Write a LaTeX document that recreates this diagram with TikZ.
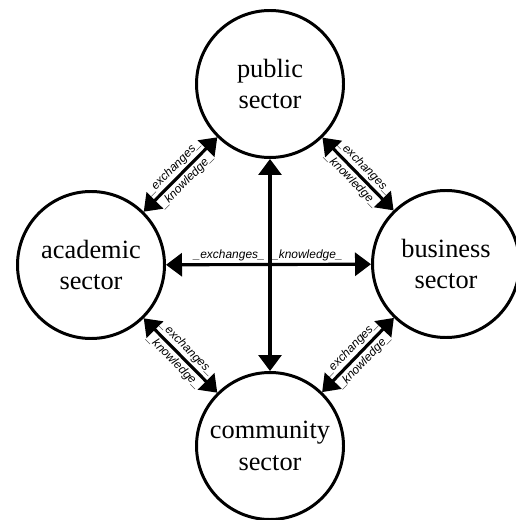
\documentclass[tikz,border=0pt]{standalone}
\usepackage{fontspec}
\setmainfont{Liberation Serif}
\setsansfont{Liberation Sans}
\usetikzlibrary{arrows.meta}

\begin{document}
\begin{tikzpicture}[
  sector/.style={circle, draw, line width=1.7pt, minimum size=2.94cm, align=center, font=\fontsize{15}{18}\selectfont},
  link/.style={line width=1.8pt, {Triangle[length=3.2mm,width=4.6mm]}-{Triangle[length=3.2mm,width=4.6mm]}},
  lbl/.style={font=\fontsize{6.8}{7.5}\selectfont\sffamily\itshape, inner sep=1.2pt, sloped}]
\useasboundingbox (0,0) rectangle (10.3,-10.4);

\node[sector] (public) at (5.4,-1.68) {public\\sector};
\node[sector] (academic) at (1.82,-5.3) {academic\\sector};
\node[sector] (business) at (8.92,-5.28) {business\\sector};
\node[sector] (community) at (5.4,-8.92) {community\\sector};

% links between the sectors
\draw[link] (academic) -- node[lbl, above] {\_exchanges\_} node[lbl, below] {\_knowledge\_} (public);
\draw[link] (public) -- node[lbl, above] {\_exchanges\_} node[lbl, below] {\_knowledge\_} (business);
\draw[link] (academic) -- node[lbl, above] {\_exchanges\_} node[lbl, below] {\_knowledge\_} (community);
\draw[link] (community) -- node[lbl, above] {\_exchanges\_} node[lbl, below] {\_knowledge\_} (business);
\draw[link] (academic) -- node[lbl, above left] {\_exchanges\_} node[lbl, above right] {\_knowledge\_} (business);
\draw[link] (public) -- (community);
\end{tikzpicture}
\end{document}
